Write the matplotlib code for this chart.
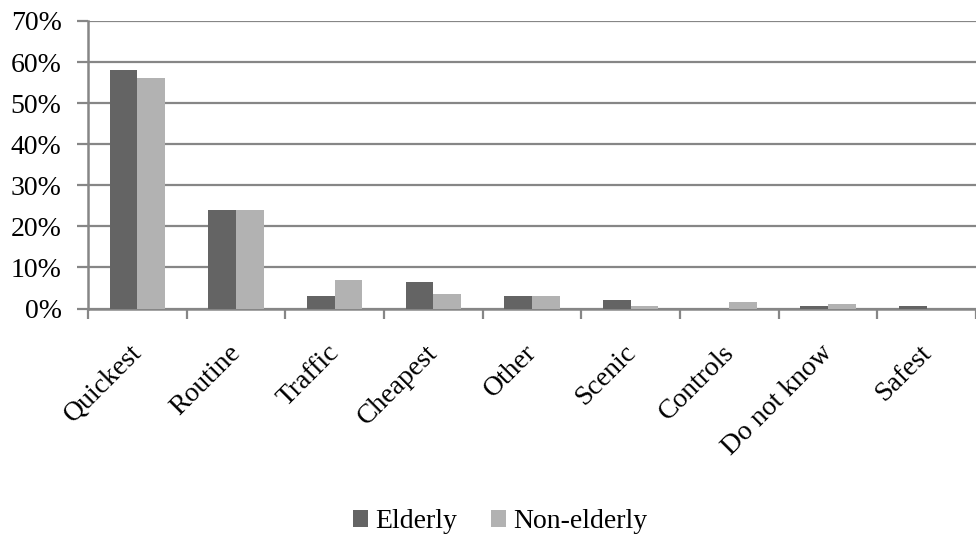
import numpy as np
import matplotlib.pyplot as plt
import matplotlib.transforms as mtransforms
from matplotlib.ticker import PercentFormatter

# Reasons for route choice, share of respondents (%)
categories = ["Quickest", "Routine", "Traffic", "Cheapest", "Other",
              "Scenic", "Controls", "Do not know", "Safest"]
elderly = [58.1, 24.0, 3.0, 6.5, 3.1, 2.1, 0.0, 0.7, 0.7]
non_elderly = [56.1, 24.0, 6.9, 3.6, 3.1, 0.7, 1.6, 1.1, 0.0]

plt.rcParams['font.family'] = ['Liberation Serif', 'DejaVu Serif']
axis_grey = "#868686"
fs = 20

fig = plt.figure(figsize=(9.76, 5.37), dpi=100)
ax = fig.add_axes([88 / 976, 1 - 308.5 / 537, (976 - 88) / 976, (308.5 - 21) / 537])

x = np.arange(len(categories))
w = 0.28
ax.bar(x - w / 2, elderly, w, color="#646464", label="Elderly", zorder=3)
ax.bar(x + w / 2, non_elderly, w, color="#b2b2b2", label="Non-elderly", zorder=3)

ax.set_xlim(-0.5, len(categories) - 0.5)
ax.set_ylim(0, 70)
ax.set_yticks(range(0, 71, 10))
ax.yaxis.set_major_formatter(PercentFormatter(decimals=0))
ax.grid(axis="y", color=axis_grey, linewidth=1.6, zorder=0)

# category labels sit between boundary ticks
ax.set_xticks(x)
ax.set_xticklabels(categories, rotation=45, ha="right", rotation_mode="anchor")
ax.set_xticks(np.arange(-0.5, len(categories), 1), minor=True)
ax.tick_params(axis="x", which="major", length=0, labelsize=fs, pad=23)
ax.tick_params(axis="x", which="minor", length=7, width=1.6, color=axis_grey)
ax.tick_params(axis="y", length=8, width=1.6, color=axis_grey, labelsize=fs, pad=11)

shift = mtransforms.ScaledTranslation(-8 / 100, 0, fig.dpi_scale_trans)
for lbl in ax.get_xticklabels():
    lbl.set_transform(lbl.get_transform() + shift)

for side in ["top", "right"]:
    ax.spines[side].set_visible(False)
for side in ["left", "bottom"]:
    ax.spines[side].set_color(axis_grey)
    ax.spines[side].set_linewidth(1.8)

fig.legend(loc="center", bbox_to_anchor=(500 / 976, 1 - 522 / 537), ncol=2, frameon=False,
           fontsize=fs, handlelength=0.55, handleheight=0.55, handletextpad=0.25,
           columnspacing=1.2)

fig.savefig("out.png", dpi=100)
